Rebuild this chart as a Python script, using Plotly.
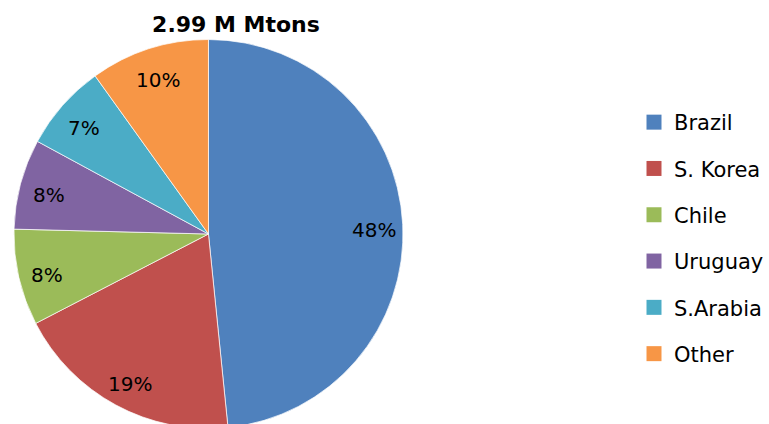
import math
import plotly.graph_objects as go

labels = ["Brazil", "S. Korea", "Chile", "Uruguay", "S.Arabia", "Other"]
values = [48.4, 19.0, 8.0, 7.5, 7.2, 9.9]
colors = ["#4F81BD", "#C0504D", "#9BBB59", "#8064A2", "#4BACC6", "#F79646"]
title_text = "2.99 M Mtons"

# canvas / layout (pixels)
W, H = 769, 432
TOP, BOT = 39, 3
PIE_L, PIE_R = 14, 404
FONT = "'DejaVu Sans', Verdana, sans-serif"

plot_h = H - TOP - BOT
fig = go.Figure()
fig.add_trace(go.Pie(
    labels=labels, values=values, sort=False, direction="clockwise", rotation=0,
    marker=dict(colors=colors, line=dict(color="white", width=0.7)),
    textinfo="none", showlegend=False, hoverinfo="label+percent",
    domain=dict(x=[PIE_L / W, PIE_R / W], y=[0, 1]),
))

# percentage labels placed along each slice bisector
cx = (PIE_L + PIE_R) / 2
r = min(PIE_R - PIE_L, plot_h) / 2
cy = TOP + plot_h / 2
total = sum(values)
cum = 0.0
for v in values:
    theta = 2 * math.pi * (cum + v / 2) / total
    cum += v
    px = cx + 0.85 * r * math.sin(theta)
    py = cy - 0.85 * r * math.cos(theta)
    fig.add_annotation(
        x=px / W, y=(H - BOT - py) / plot_h, xref="paper", yref="paper",
        text=f"{round(v / total * 100)}%", showarrow=False,
        xanchor="center", yanchor="middle", yshift=-4,
        font=dict(family=FONT, size=20, color="black"),
    )

# legend entries (one group per item for spacing)
for lab, col in zip(labels, colors):
    fig.add_trace(go.Scatter(
        x=[None], y=[None], mode="markers", name=lab, legendgroup=lab,
        marker=dict(symbol="square", size=15, color=col),
        showlegend=True, hoverinfo="skip",
    ))

fig.update_layout(
    width=W, height=H,
    margin=dict(l=0, r=0, t=TOP, b=BOT),
    paper_bgcolor="white", plot_bgcolor="white",
    title=dict(text="<b>" + title_text + "</b>", x=236 / W, xanchor="center",
               y=1 - 24 / H, yanchor="middle",
               font=dict(family=FONT, size=22, color="black")),
    xaxis=dict(visible=False, domain=[0.9, 0.95]),
    yaxis=dict(visible=False, domain=[0.9, 0.95]),
    legend=dict(x=636 / W, xanchor="left", y=(H - BOT - 238) / plot_h,
                yanchor="middle",
                font=dict(family=FONT, size=21, color="black"),
                tracegroupgap=16, itemwidth=30, bgcolor="rgba(0,0,0,0)"),
)

fig.write_html(
    "out.html",
    config={"displayModeBar": False},
    post_script="document.body.style.margin='0';document.body.style.overflow='hidden';",
)
